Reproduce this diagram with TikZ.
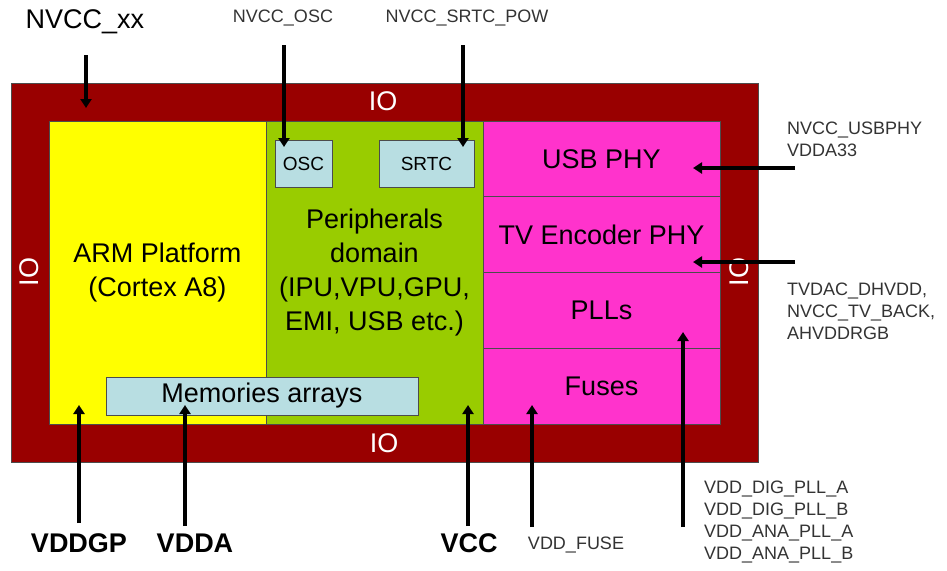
\documentclass[tikz,border=0pt]{standalone}
\usepackage{fontspec}
\setmainfont{Liberation Sans}
\usepackage{xcolor}
\usepackage{tikz}
\usetikzlibrary{positioning, arrows.meta}
\definecolor{ioRed}{HTML}{990000}
\definecolor{armYellow}{HTML}{FFFF00}
\definecolor{periGreen}{HTML}{99CC00}
\definecolor{phyPink}{HTML}{FF33CC}
\definecolor{memBlue}{HTML}{B8DEE2}
\definecolor{pinGray}{HTML}{333333}
\newcommand{\domfont}{\fontsize{27}{34}\selectfont}
\newcommand{\boxfont}{\fontsize{19}{22}\selectfont}
\newcommand{\pinfont}{\fontsize{18}{22}\selectfont}

\begin{document}
\begin{tikzpicture}[
  x=1pt, y=-1pt,
  domain/.style={
    rectangle, draw=black!70, fill=#1, line width=0.8pt,
    inner sep=0pt, outer sep=0pt, align=center, font=\domfont
  },
  blk/.style={
    rectangle, draw=black!70, fill=memBlue, line width=0.8pt,
    inner sep=0pt, align=center
  },
  iotext/.style={font=\domfont\color{white}, inner sep=0pt},
  rail/.style={font=\domfont\bfseries, inner sep=0pt},
  pin/.style={font=\pinfont\color{pinGray}, inner sep=0pt, align=left},
  pwr/.style={line width=3.5pt, -{Triangle[width=11pt,length=9pt]}},
]
\useasboundingbox (0,0) rectangle (947,570);

% IO ring
\node[domain=ioRed, minimum width=747pt, minimum height=379pt] (ring) at (384.5,272.5) {};
\node[iotext] (iotop) at (383,101) {IO};
\node[iotext] (iobot) at (384,443) {IO};
\node[iotext, rotate=90] (ioleft) at (29,272) {IO};
\node[iotext, rotate=90] (ioright) at (739,272) {IO};

% Core domains
\node[domain=armYellow, minimum width=217pt, minimum height=303pt] (arm) at (157.5,272.5) {
  ARM Platform\\(Cortex A8)
};
\node[domain=periGreen, minimum width=217pt, minimum height=303pt, right=0pt of arm] (peri) {
  Peripherals\\domain\\(IPU,VPU,GPU,\\EMI, USB etc.)
};

% Analog / PHY column
\node[domain=phyPink, minimum width=237pt, minimum height=75.75pt, anchor=north west] (usbphy) at (peri.north east) {USB PHY};
\node[domain=phyPink, minimum width=237pt, minimum height=75.75pt, below=0pt of usbphy] (tvphy) {TV Encoder PHY};
\node[domain=phyPink, minimum width=237pt, minimum height=75.75pt, below=0pt of tvphy] (plls) {PLLs};
\node[domain=phyPink, minimum width=237pt, minimum height=75.75pt, below=0pt of plls] (fuses) {Fuses};

% Small blocks
\node[blk, font=\domfont, minimum width=312pt, minimum height=38pt] (mem) at (262,396) {Memories arrays};
\node[blk, font=\boxfont, minimum width=57pt, minimum height=47pt] (osc) at (303.5,163.5) {OSC};
\node[blk, font=\boxfont, minimum width=95pt, minimum height=47pt] (srtc) at (426.5,163.5) {SRTC};

% Supply names
\node[font=\domfont, inner sep=0pt] (nvccxx) at (85,22) {NVCC\_xx};
\node[pin] (nvccosc) at (283,18) {NVCC\_OSC};
\node[pin] (nvccsrtc) at (467,18) {NVCC\_SRTC\_POW};
\node[pin, anchor=west] (nvccusb) at (787,139) {NVCC\_USBPHY\\VDDA33};
\node[pin, anchor=west] (tvdac) at (787,311) {TVDAC\_DHVDD,\\NVCC\_TV\_BACK,\\AHVDDRGB};
\node[pin, anchor=west] (vddpll) at (704,521.5) {VDD\_DIG\_PLL\_A\\VDD\_DIG\_PLL\_B\\VDD\_ANA\_PLL\_A\\VDD\_ANA\_PLL\_B};
\node[rail] (vddgp) at (79,543) {VDDGP};
\node[rail] (vdda) at (195,543) {VDDA};
\node[rail] (vcc) at (469,543) {VCC};
\node[pin] (vddfuse) at (576,545) {VDD\_FUSE};

% arrow ends
\coordinate (xxtail) at (86,55);   \coordinate (xxtip) at (86,108);
\coordinate (osctail) at (284,45); \coordinate (osctip) at (284,147);
\coordinate (srtctail) at (463,45); \coordinate (srtctip) at (463,147);
\coordinate (usbtail) at (795,168); \coordinate (usbtip) at (693,168);
\coordinate (tvtail) at (795,262); \coordinate (tvtip) at (693,262);
\coordinate (gptail) at (79,523);  \coordinate (gptip) at (79,405);
\coordinate (datail) at (185,526); \coordinate (datip) at (185,405);
\coordinate (vcctail) at (468,526); \coordinate (vcctip) at (468,405);
\coordinate (fusetail) at (532,527); \coordinate (fusetip) at (532,405);
\coordinate (plltail) at (683,527); \coordinate (plltip) at (683,332);

\draw[pwr] (xxtail) -- (xxtip);
\draw[pwr] (osctail) -- (osctip);
\draw[pwr] (srtctail) -- (srtctip);
\draw[pwr] (usbtail) -- (usbtip);
\draw[pwr] (tvtail) -- (tvtip);
\draw[pwr] (gptail) -- (gptip);
\draw[pwr] (datail) -- (datip);
\draw[pwr] (vcctail) -- (vcctip);
\draw[pwr] (fusetail) -- (fusetip);
\draw[pwr] (plltail) -- (plltip);

\end{tikzpicture}
\end{document}
